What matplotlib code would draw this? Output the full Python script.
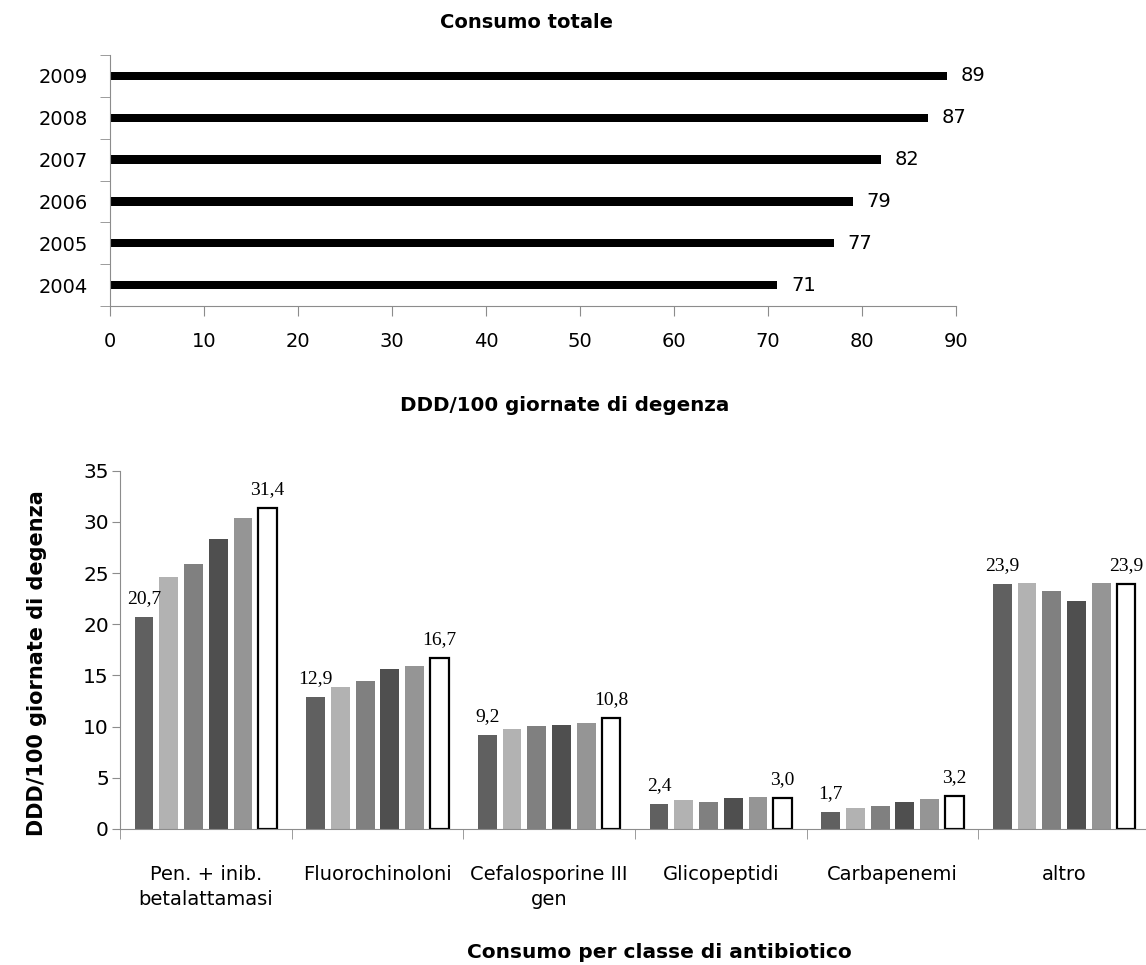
import matplotlib
matplotlib.use("Agg")
import matplotlib.pyplot as plt
import numpy as np

# ---- data -------------------------------------------------------------
years = ["2004", "2005", "2006", "2007", "2008", "2009"]
total_consumption = [71, 77, 79, 82, 87, 89]

classes = ["Pen. + inib.\nbetalattamasi", "Fluorochinoloni", "Cefalosporine III\ngen",
           "Glicopeptidi", "Carbapenemi", "altro"]
by_class_2004 = [20.7, 12.9, 9.2, 2.4, 1.7, 23.9]
by_class_2005 = [24.6, 13.9, 9.8, 2.8, 2.1, 24.0]
by_class_2006 = [25.9, 14.5, 10.1, 2.6, 2.2, 23.2]
by_class_2007 = [28.3, 15.6, 10.2, 3.0, 2.6, 22.3]
by_class_2008 = [30.4, 15.9, 10.4, 3.1, 2.9, 24.0]
by_class_2009 = [31.4, 16.7, 10.8, 3.0, 3.2, 23.9]

# ---- figure -----------------------------------------------------------
W, H = 1146, 965
fig = plt.figure(figsize=(W / 100, H / 100), dpi=100)
plt.rcParams["font.family"] = ["DejaVu Sans"]
AXIS_GREY = "#8c8c8c"


def box(left, top, right, bottom):
    return [left / W, 1 - bottom / H, (right - left) / W, (bottom - top) / H]


def ftext(x, y, s, **kw):
    fig.text(x / W, 1 - y / H, s, **kw)


# ---- top: total consumption per year ----------------------------------
ax1 = fig.add_axes(box(110, 55, 956, 306))
ypos = np.arange(len(years))
ax1.barh(ypos, total_consumption, height=0.2, color="black")
for y, v in zip(ypos, total_consumption):
    ax1.annotate(f"{v}", (v, y), xytext=(10, 0), textcoords="offset points",
                 va="center", ha="left", fontsize=14)
ax1.set_xlim(0, 90)
ax1.set_ylim(-0.5, len(years) - 0.5)
ax1.set_xticks(np.arange(0, 91, 10))
ax1.set_yticks(ypos)
ax1.set_yticklabels(years)
ax1.set_yticks(np.arange(-0.5, len(years), 1.0), minor=True)
ax1.tick_params(axis="y", which="major", length=0, pad=16, labelsize=14)
ax1.tick_params(axis="y", which="minor", length=7, color=AXIS_GREY)
ax1.tick_params(axis="x", length=7, color=AXIS_GREY, pad=12, labelsize=14)
for s in ("top", "right"):
    ax1.spines[s].set_visible(False)
for s in ("left", "bottom"):
    ax1.spines[s].set_color(AXIS_GREY)

ftext(527, 23, "Consumo totale", ha="center", va="center",
      fontsize=14, fontweight="bold")
ftext(400, 411, "DDD/100 giornate di degenza", ha="left", va="baseline",
      fontsize=14.3, fontweight="bold")

# ---- bottom: consumption per antibiotic class -------------------------
ax2 = fig.add_axes(box(120, 470.7, 1150, 829))
series = [by_class_2004, by_class_2005, by_class_2006,
          by_class_2007, by_class_2008, by_class_2009]
fills = ["#606060", "#b2b2b2", "#808080", "#4f4f4f", "#959595", "white"]
x = np.arange(len(classes))
pitch, width = 0.1438, 0.109
for j, (vals, fc) in enumerate(zip(series, fills)):
    xs = x + (j - 2.5) * pitch
    if fc == "white":
        ax2.bar(xs, vals, width=width, color="white", edgecolor="black",
                linewidth=1.6)
    else:
        ax2.bar(xs, vals, width=width, color=fc, linewidth=0)
    if j in (0, len(series) - 1):
        for xi, v in zip(xs, vals):
            ax2.annotate(f"{v:.1f}".replace(".", ","), (xi, v),
                         xytext=(0, 10), textcoords="offset points",
                         ha="center", va="baseline", fontsize=14,
                         family="Liberation Serif")

ax2.set_xlim(-0.5, len(classes) - 0.5)
ax2.set_ylim(0, 35)
ax2.set_yticks(np.arange(0, 36, 5))
ax2.set_xticks(x)
ax2.set_xticklabels(classes, linespacing=1.4)
ax2.set_xticks(np.arange(-0.5, len(classes), 1.0), minor=True)
ax2.tick_params(axis="x", which="major", length=0, pad=26, labelsize=14)
ax2.tick_params(axis="x", which="minor", length=7, color=AXIS_GREY)
ax2.tick_params(axis="y", length=6, color=AXIS_GREY, pad=2, labelsize=14.5)
for s in ("top", "right"):
    ax2.spines[s].set_visible(False)
for s in ("left", "bottom"):
    ax2.spines[s].set_color(AXIS_GREY)

ftext(37, 663, "DDD/100 giornate di degenza", ha="center", va="center",
      rotation=90, fontsize=15, fontweight="bold")
ftext(467, 958, "Consumo per classe di antibiotico", ha="left", va="baseline",
      fontsize=14.5, fontweight="bold")

fig.savefig("out.png", dpi=100)
